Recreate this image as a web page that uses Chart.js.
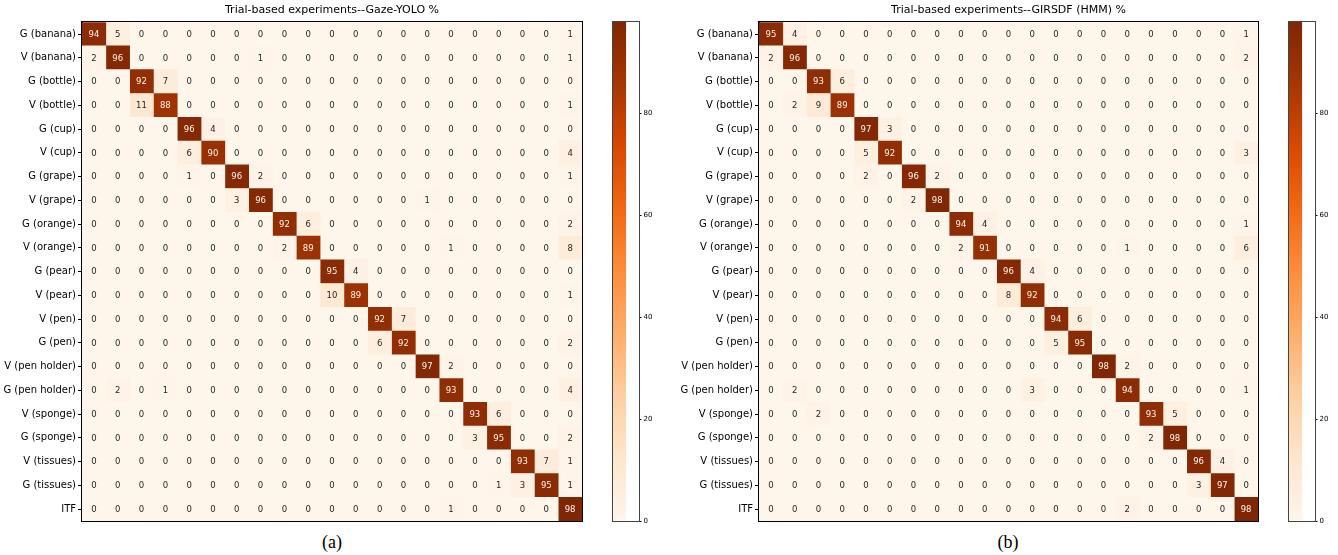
<!DOCTYPE html>
<html>
<head>
<meta charset="utf-8">
<title>Trial-based confusion matrices</title>
<script src="https://cdn.jsdelivr.net/npm/chart.js@4.4.1/dist/chart.umd.min.js"></script>
<style>
  body { margin: 0; background: #fff; width: 1338px; height: 555px; position: relative; overflow: hidden; }
  canvas { position: absolute; top: 0; }
  .cap { position: absolute; top: 532px; width: 100px; text-align: center; font-family: "Liberation Serif", serif; font-size: 18px; color: #000; }
</style>
</head>
<body>
<canvas id="cmA" width="592" height="530" style="left:0px"></canvas>
<canvas id="cbA" width="62" height="530" style="left:600px"></canvas>
<canvas id="cmB" width="591" height="530" style="left:677px"></canvas>
<canvas id="cbB" width="62" height="530" style="left:1276px"></canvas>
<div class="cap" style="left:282px">(a)</div>
<div class="cap" style="left:958px">(b)</div>
<script>
// class labels (rows = true, columns = predicted, same order)
const classes = ["G (banana)", "V (banana)", "G (bottle)", "V (bottle)", "G (cup)", "V (cup)",
  "G (grape)", "V (grape)", "G (orange)", "V (orange)", "G (pear)", "V (pear)", "V (pen)", "G (pen)",
  "V (pen holder)", "G (pen holder)", "V (sponge)", "G (sponge)", "V (tissues)", "G (tissues)", "ITF"];

// Gaze-YOLO %
const gazeYolo = [
  [94, 5, 0, 0, 0, 0, 0, 0, 0, 0, 0, 0, 0, 0, 0, 0, 0, 0, 0, 0, 1],
  [2, 96, 0, 0, 0, 0, 0, 1, 0, 0, 0, 0, 0, 0, 0, 0, 0, 0, 0, 0, 1],
  [0, 0, 92, 7, 0, 0, 0, 0, 0, 0, 0, 0, 0, 0, 0, 0, 0, 0, 0, 0, 0],
  [0, 0, 11, 88, 0, 0, 0, 0, 0, 0, 0, 0, 0, 0, 0, 0, 0, 0, 0, 0, 1],
  [0, 0, 0, 0, 96, 4, 0, 0, 0, 0, 0, 0, 0, 0, 0, 0, 0, 0, 0, 0, 0],
  [0, 0, 0, 0, 6, 90, 0, 0, 0, 0, 0, 0, 0, 0, 0, 0, 0, 0, 0, 0, 4],
  [0, 0, 0, 0, 1, 0, 96, 2, 0, 0, 0, 0, 0, 0, 0, 0, 0, 0, 0, 0, 1],
  [0, 0, 0, 0, 0, 0, 3, 96, 0, 0, 0, 0, 0, 0, 1, 0, 0, 0, 0, 0, 0],
  [0, 0, 0, 0, 0, 0, 0, 0, 92, 6, 0, 0, 0, 0, 0, 0, 0, 0, 0, 0, 2],
  [0, 0, 0, 0, 0, 0, 0, 0, 2, 89, 0, 0, 0, 0, 0, 1, 0, 0, 0, 0, 8],
  [0, 0, 0, 0, 0, 0, 0, 0, 0, 0, 95, 4, 0, 0, 0, 0, 0, 0, 0, 0, 0],
  [0, 0, 0, 0, 0, 0, 0, 0, 0, 0, 10, 89, 0, 0, 0, 0, 0, 0, 0, 0, 1],
  [0, 0, 0, 0, 0, 0, 0, 0, 0, 0, 0, 0, 92, 7, 0, 0, 0, 0, 0, 0, 0],
  [0, 0, 0, 0, 0, 0, 0, 0, 0, 0, 0, 0, 6, 92, 0, 0, 0, 0, 0, 0, 2],
  [0, 0, 0, 0, 0, 0, 0, 0, 0, 0, 0, 0, 0, 0, 97, 2, 0, 0, 0, 0, 0],
  [0, 2, 0, 1, 0, 0, 0, 0, 0, 0, 0, 0, 0, 0, 0, 93, 0, 0, 0, 0, 4],
  [0, 0, 0, 0, 0, 0, 0, 0, 0, 0, 0, 0, 0, 0, 0, 0, 93, 6, 0, 0, 0],
  [0, 0, 0, 0, 0, 0, 0, 0, 0, 0, 0, 0, 0, 0, 0, 0, 3, 95, 0, 0, 2],
  [0, 0, 0, 0, 0, 0, 0, 0, 0, 0, 0, 0, 0, 0, 0, 0, 0, 0, 93, 7, 1],
  [0, 0, 0, 0, 0, 0, 0, 0, 0, 0, 0, 0, 0, 0, 0, 0, 0, 1, 3, 95, 1],
  [0, 0, 0, 0, 0, 0, 0, 0, 0, 0, 0, 0, 0, 0, 0, 1, 0, 0, 0, 0, 98]
];

// GIRSDF (HMM) %
const girsdf = [
  [95, 4, 0, 0, 0, 0, 0, 0, 0, 0, 0, 0, 0, 0, 0, 0, 0, 0, 0, 0, 1],
  [2, 96, 0, 0, 0, 0, 0, 0, 0, 0, 0, 0, 0, 0, 0, 0, 0, 0, 0, 0, 2],
  [0, 0, 93, 6, 0, 0, 0, 0, 0, 0, 0, 0, 0, 0, 0, 0, 0, 0, 0, 0, 0],
  [0, 2, 9, 89, 0, 0, 0, 0, 0, 0, 0, 0, 0, 0, 0, 0, 0, 0, 0, 0, 0],
  [0, 0, 0, 0, 97, 3, 0, 0, 0, 0, 0, 0, 0, 0, 0, 0, 0, 0, 0, 0, 0],
  [0, 0, 0, 0, 5, 92, 0, 0, 0, 0, 0, 0, 0, 0, 0, 0, 0, 0, 0, 0, 3],
  [0, 0, 0, 0, 2, 0, 96, 2, 0, 0, 0, 0, 0, 0, 0, 0, 0, 0, 0, 0, 0],
  [0, 0, 0, 0, 0, 0, 2, 98, 0, 0, 0, 0, 0, 0, 0, 0, 0, 0, 0, 0, 0],
  [0, 0, 0, 0, 0, 0, 0, 0, 94, 4, 0, 0, 0, 0, 0, 0, 0, 0, 0, 0, 1],
  [0, 0, 0, 0, 0, 0, 0, 0, 2, 91, 0, 0, 0, 0, 0, 1, 0, 0, 0, 0, 6],
  [0, 0, 0, 0, 0, 0, 0, 0, 0, 0, 96, 4, 0, 0, 0, 0, 0, 0, 0, 0, 0],
  [0, 0, 0, 0, 0, 0, 0, 0, 0, 0, 8, 92, 0, 0, 0, 0, 0, 0, 0, 0, 0],
  [0, 0, 0, 0, 0, 0, 0, 0, 0, 0, 0, 0, 94, 6, 0, 0, 0, 0, 0, 0, 0],
  [0, 0, 0, 0, 0, 0, 0, 0, 0, 0, 0, 0, 5, 95, 0, 0, 0, 0, 0, 0, 0],
  [0, 0, 0, 0, 0, 0, 0, 0, 0, 0, 0, 0, 0, 0, 98, 2, 0, 0, 0, 0, 0],
  [0, 2, 0, 0, 0, 0, 0, 0, 0, 0, 0, 3, 0, 0, 0, 94, 0, 0, 0, 0, 1],
  [0, 0, 2, 0, 0, 0, 0, 0, 0, 0, 0, 0, 0, 0, 0, 0, 93, 5, 0, 0, 0],
  [0, 0, 0, 0, 0, 0, 0, 0, 0, 0, 0, 0, 0, 0, 0, 0, 2, 98, 0, 0, 0],
  [0, 0, 0, 0, 0, 0, 0, 0, 0, 0, 0, 0, 0, 0, 0, 0, 0, 0, 96, 4, 0],
  [0, 0, 0, 0, 0, 0, 0, 0, 0, 0, 0, 0, 0, 0, 0, 0, 0, 0, 3, 97, 0],
  [0, 0, 0, 0, 0, 0, 0, 0, 0, 0, 0, 0, 0, 0, 0, 2, 0, 0, 0, 0, 98]
];

const colorbarTicks = [0, 20, 40, 60, 80];
const vmin = 0;
const vmax = 98;

// matplotlib "Oranges"
const oranges = [
  [254, 245, 235], [254, 230, 206], [253, 208, 162], [253, 174, 107], [253, 141, 60],
  [241, 105, 19], [217, 72, 1], [166, 54, 3], [127, 39, 4]
];

function orangeAt(t) {
  t = Math.max(0, Math.min(1, t));
  const p = t * (oranges.length - 1);
  const i = Math.min(Math.floor(p), oranges.length - 2);
  const f = p - i;
  const a = oranges[i], b = oranges[i + 1];
  const c = a.map((v, k) => Math.round(v + (b[k] - v) * f));
  return "rgb(" + c.join(",") + ")";
}

const FONT = "'DejaVu Sans', sans-serif";

// box round the plot area
const frame = {
  id: "frame",
  afterDraw(chart, args, opts) {
    const a = chart.chartArea, ctx = chart.ctx;
    ctx.save();
    ctx.strokeStyle = opts.color || "#000";
    ctx.lineWidth = 1;
    ctx.strokeRect(Math.round(a.left) - 0.5, Math.round(a.top) - 0.5,
      Math.round(a.right - a.left) + 1, Math.round(a.bottom - a.top) + 1);
    ctx.restore();
  }
};

// numbers in the cells
const cellText = {
  id: "cellText",
  afterDatasetsDraw(chart) {
    const m = chart.config.options.plugins.cellText.matrix;
    const ctx = chart.ctx;
    ctx.save();
    ctx.font = "8.5px " + FONT;
    ctx.textAlign = "center";
    ctx.textBaseline = "middle";
    chart.data.datasets.forEach((ds, j) => {
      chart.getDatasetMeta(j).data.forEach((bar, i) => {
        const v = m[i][j];
        ctx.fillStyle = v > (vmax + vmin) / 2 ? "#fef5eb" : "#262626";
        ctx.fillText(String(v), (bar.x + bar.base) / 2, bar.y + 0.5);
      });
    });
    ctx.restore();
  }
};

function matrixChart(id, title, matrix) {
  // one dataset per predicted column, one floating bar per true row
  const datasets = classes.map((c, j) => ({
    label: c,
    data: matrix.map(() => [j, j + 1]),
    backgroundColor: matrix.map(row => orangeAt((row[j] - vmin) / (vmax - vmin))),
    borderWidth: 0,
    barPercentage: 1,
    categoryPercentage: 1,
    grouped: false
  }));
  return new Chart(document.getElementById(id), {
    type: "bar",
    data: { labels: classes, datasets: datasets },
    options: {
      indexAxis: "y",
      responsive: false,
      animation: false,
      layout: { padding: { left: 0, right: 10, top: 0, bottom: 9 } },
      scales: {
        x: { type: "linear", min: 0, max: classes.length, display: false },
        y: {
          type: "category",
          offset: true,
          afterFit: s => { s.width = 82; },
          grid: { offset: false, drawOnChartArea: false, drawTicks: true, tickLength: 4, color: "#000", tickColor: "#000" },
          border: { display: true, color: "#000", width: 1 },
          ticks: { color: "#000", padding: 2, font: { family: FONT, size: 10 }, autoSkip: false }
        }
      },
      plugins: {
        legend: { display: false },
        tooltip: { enabled: false },
        title: {
          display: true,
          text: title,
          fullSize: false,
          color: "#000",
          font: { family: FONT, size: 11, weight: "normal" },
          padding: { top: 4, bottom: 5 }
        },
        cellText: { matrix: matrix },
        frame: { color: "#000" }
      }
    },
    plugins: [cellText, frame]
  });
}

function barGradient(ctx) {
  const chart = ctx.chart;
  const y = chart.scales.y;
  if (!chart.chartArea || !y) return orangeAt(0.5);
  const p0 = y.getPixelForValue(vmin), p1 = y.getPixelForValue(vmax);
  if (!isFinite(p0) || !isFinite(p1)) return orangeAt(0.5);
  const g = chart.ctx.createLinearGradient(0, p0, 0, p1);
  for (let k = 0; k <= 40; k++) g.addColorStop(k / 40, orangeAt(k / 40));
  return g;
}

function colorbar(id) {
  const c = new Chart(document.getElementById(id), {
    type: "bar",
    data: {
      labels: [""],
      datasets: [{
        data: [[vmin, vmax]],
        borderWidth: 0,
        barPercentage: 1,
        categoryPercentage: 1,
        backgroundColor: barGradient
      }]
    },
    options: {
      responsive: false,
      animation: false,
      layout: { padding: { left: 13, right: 0, top: 22, bottom: 9 } },
      scales: {
        x: { display: false, offset: false },
        y: {
          position: "right",
          min: vmin,
          max: vmax,
          afterFit: s => { s.width = 23.5; },
          afterBuildTicks: s => { s.ticks = colorbarTicks.map(v => ({ value: v })); },
          grid: { drawOnChartArea: false, drawTicks: true, tickLength: 3, color: "#000", tickColor: "#000" },
          border: { display: false },
          ticks: { color: "#000", padding: 2, font: { family: FONT, size: 7 } }
        }
      },
      plugins: { legend: { display: false }, tooltip: { enabled: false }, frame: { color: "#444" } }
    },
    plugins: [frame]
  });
  c.update();
  return c;
}

matrixChart("cmA", "Trial-based experiments--Gaze-YOLO %", gazeYolo);
matrixChart("cmB", "Trial-based experiments--GIRSDF (HMM) %", girsdf);
colorbar("cbA");
colorbar("cbB");
</script>
</body>
</html>
